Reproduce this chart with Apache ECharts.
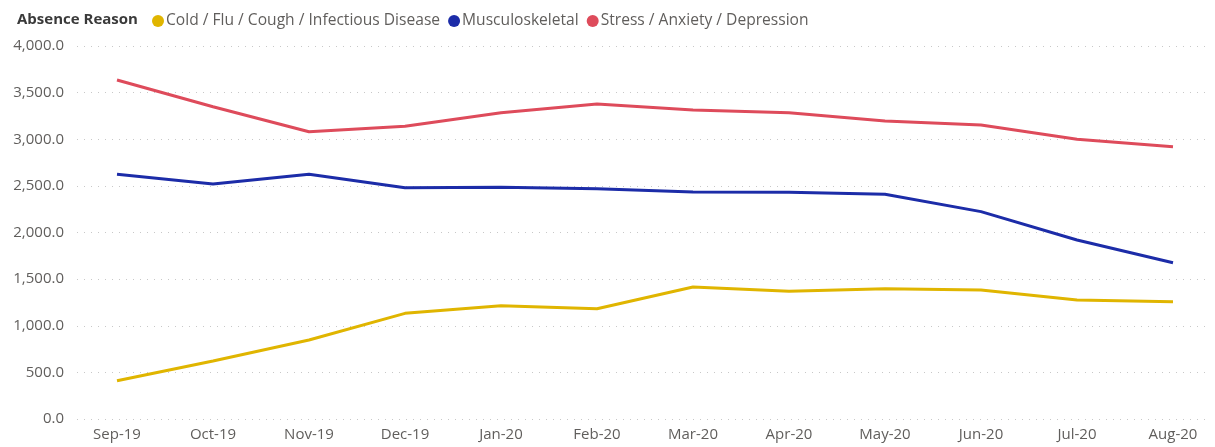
<!DOCTYPE html>
<html>
<head>
<meta charset="utf-8">
<script src="https://cdn.jsdelivr.net/npm/echarts@6/dist/echarts.min.js"></script>
<style>
html,body{margin:0;padding:0;background:#fff;}
#chart{width:1215px;height:447px;}
</style>
</head>
<body>
<div id="chart"></div>
<script>
const categories = ['Sep-19','Oct-19','Nov-19','Dec-19','Jan-20','Feb-20','Mar-20','Apr-20','May-20','Jun-20','Jul-20','Aug-20'];
const coldFlu = [411, 622, 847, 1133, 1215, 1183, 1416, 1369, 1398, 1383, 1276, 1258];
const musculoskeletal = [2624, 2520, 2624, 2481, 2484, 2470, 2434, 2431, 2410, 2224, 1920, 1676];
const stress = [3635, 3349, 3081, 3140, 3285, 3378, 3314, 3285, 3196, 3153, 2999, 2920];
const seriesNames = ['Cold / Flu / Cough / Infectious Disease', 'Musculoskeletal', 'Stress / Anxiety / Depression'];
const yMin = 0, yMax = 4000, yStep = 500;

const colors = ['#E0B500', '#1C2CA8', '#DE4B5B'];
const font = '"Open Sans", "Noto Sans", sans-serif';
const fs = 15;

const chart = echarts.init(document.getElementById('chart'), null, {renderer: 'canvas'});
const fmt = v => v.toLocaleString('en-US', {minimumFractionDigits: 1, maximumFractionDigits: 1});

chart.setOption({
  animation: false,
  color: colors,
  title: {
    text: 'Absence Reason', left: 12, top: 7,
    textStyle: {fontFamily: font, fontSize: fs, fontWeight: 'bold', color: '#3a3a3a'}
  },
  legend: {
    left: 147, top: 8, icon: 'circle', itemWidth: 12, itemHeight: 12, itemGap: 8,
    data: seriesNames,
    textStyle: {fontFamily: font, fontSize: 15.6, color: '#605E5C', padding: [0,0,0,-3]}
  },
  grid: [
    {left: 77, right: 7, top: 46, bottom: 28, containLabel: false},
    {left: 117, right: 42, top: 46, bottom: 28, containLabel: false}
  ],
  xAxis: [
    {gridIndex: 0, type: 'value', min: 0, max: 1, show: false},
    {gridIndex: 1, type: 'category', data: categories, boundaryGap: false,
      axisLine: {show: false}, axisTick: {show: false},
      axisLabel: {fontFamily: font, fontSize: fs, color: '#605E5C', margin: 8, interval: 0}}
  ],
  yAxis: [
    {gridIndex: 0, type: 'value', min: yMin, max: yMax, interval: yStep,
      axisLine: {show: false}, axisTick: {show: false},
      axisLabel: {fontFamily: font, fontSize: fs, color: '#605E5C', margin: 13, formatter: fmt},
      splitLine: {show: true, lineStyle: {color: '#c8c8c8', width: 1, type: [1, 6]}}},
    {gridIndex: 1, type: 'value', min: yMin, max: yMax, interval: yStep, show: false,
      splitLine: {show: false}}
  ],
  series: [
    {name: seriesNames[0], type: 'line', xAxisIndex: 1, yAxisIndex: 1, data: coldFlu, symbol: 'none', lineStyle: {width: 3}},
    {name: seriesNames[1], type: 'line', xAxisIndex: 1, yAxisIndex: 1, data: musculoskeletal, symbol: 'none', lineStyle: {width: 3}},
    {name: seriesNames[2], type: 'line', xAxisIndex: 1, yAxisIndex: 1, data: stress, symbol: 'none', lineStyle: {width: 3}}
  ]
});
</script>
</body>
</html>
